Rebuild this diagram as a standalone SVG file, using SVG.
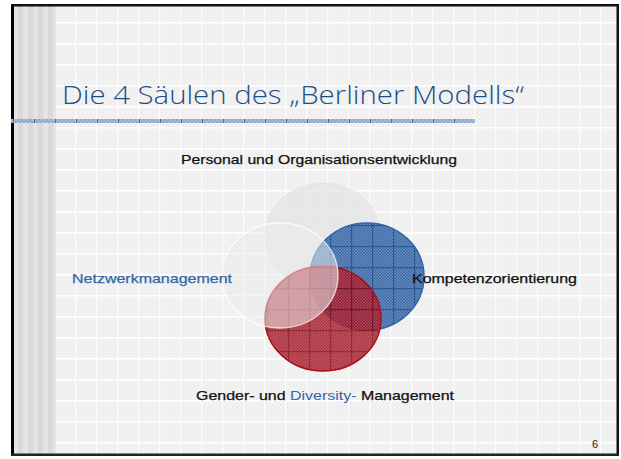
<svg xmlns="http://www.w3.org/2000/svg" width="621" height="459" viewBox="0 0 621 459">
<defs>
<style>
.lbl{font-family:"Liberation Sans",Arial,sans-serif;font-size:13px;fill:#111;stroke:#111;stroke-width:0.25}
.blue{fill:#3566a8;stroke:#3566a8}
.thin{stroke:none}
.title{font-family:"Open Sans","DejaVu Sans",sans-serif;font-weight:300;font-size:26px;fill:#1f4e86}
</style>
<pattern id="bgdots" width="4" height="4" patternUnits="userSpaceOnUse">
<rect width="4" height="4" fill="#f4f4f4"/>
<rect width="2" height="2" fill="#ededed"/>
<rect x="2" y="2" width="2" height="2" fill="#ededed"/>
</pattern>
<pattern id="bggrid" width="21" height="21" patternUnits="userSpaceOnUse" x="12" y="1">
<rect width="21" height="21" fill="url(#bgdots)"/>
<rect width="21" height="1.5" fill="#ffffff"/>
<rect width="1.2" height="21" fill="#fdfdfd"/>
</pattern>
<pattern id="stripes" width="10" height="10" patternUnits="userSpaceOnUse" x="13">
<rect width="5" height="10" fill="#e4e4e4"/>
<rect x="5" width="5" height="10" fill="#d9d9d9"/>
</pattern>
<pattern id="bdots" width="3" height="3" patternUnits="userSpaceOnUse">
<rect width="3" height="3" fill="#6a8fc0"/>
<rect width="1.5" height="1.5" fill="#3a67a3"/>
<rect x="1.5" y="1.5" width="1.5" height="1.5" fill="#3a67a3"/>
</pattern>
<pattern id="bgrid" width="21" height="21" patternUnits="userSpaceOnUse" x="15" y="15">
<rect width="21" height="21" fill="url(#bdots)"/>
<rect width="21" height="1.2" fill="#2a5a96"/>
<rect width="1.2" height="21" fill="#2a5a96"/>
</pattern>
<pattern id="rdots" width="3" height="3" patternUnits="userSpaceOnUse">
<rect width="3" height="3" fill="#bd3c48"/>
<rect width="1.5" height="1.5" fill="#98101f"/>
<rect x="1.5" y="1.5" width="1.5" height="1.5" fill="#98101f"/>
</pattern>
<pattern id="rgrid" width="21" height="21" patternUnits="userSpaceOnUse" x="15" y="15">
<rect width="21" height="21" fill="url(#rdots)"/>
<rect width="21" height="1.2" fill="#800a16"/>
<rect width="1.2" height="21" fill="#800a16"/>
</pattern>
<pattern id="bar" width="21" height="4" patternUnits="userSpaceOnUse" x="13" y="119">
<rect width="21" height="4" fill="#a9bcd6"/>
<rect width="2" height="2" fill="#8ea7c9"/>
<rect x="4" width="2" height="2" fill="#8ea7c9"/>
<rect x="8" width="2" height="2" fill="#8ea7c9"/>
<rect x="12" width="2" height="2" fill="#8ea7c9"/>
<rect x="16" width="2" height="2" fill="#8ea7c9"/>
<rect x="2" y="2" width="2" height="2" fill="#8ea7c9"/>
<rect x="6" y="2" width="2" height="2" fill="#8ea7c9"/>
<rect x="10" y="2" width="2" height="2" fill="#8ea7c9"/>
<rect x="14" y="2" width="2" height="2" fill="#8ea7c9"/>
<rect x="18" y="2" width="2" height="2" fill="#8ea7c9"/>
<rect width="1" height="4" fill="#4a6f9e"/>
</pattern>
</defs>

<g id="background">
<rect width="621" height="459" fill="#ffffff"/>
<rect x="11" y="4" width="607" height="452" fill="url(#bggrid)"/>
<rect x="13" y="6" width="43" height="448" fill="url(#stripes)"/>
<rect x="11" y="4" width="3" height="452" fill="#000"/>
<rect x="11" y="4" width="608" height="2.5" fill="#111"/>
<rect x="616.5" y="4" width="2.5" height="452" fill="#111"/>
<rect x="11" y="453.5" width="608" height="2.5" fill="#222"/>
</g>

<g id="title">
<text class="title" x="62" y="104" textLength="462" lengthAdjust="spacingAndGlyphs">Die 4 Säulen des „Berliner Modells“</text>
<rect x="11" y="119" width="464" height="4" fill="url(#bar)"/>
</g>

<g id="circle-top">
<ellipse cx="323" cy="236" rx="58" ry="53" fill="#e2e2e2" fill-opacity="0.7" stroke="#e6e6e6" stroke-width="1"/>
</g>
<g id="circle-blue">
<ellipse cx="367" cy="276.5" rx="57" ry="53.5" fill="url(#bgrid)" stroke="#2e66a8" stroke-width="1.5"/>
</g>
<g id="circle-red">
<ellipse cx="323" cy="318.5" rx="58" ry="52.5" fill="url(#rgrid)" fill-opacity="0.85" stroke="#a8101c" stroke-width="1.5"/>
</g>
<g id="circle-left">
<ellipse cx="280" cy="275.5" rx="58" ry="52.5" fill="#ebebeb" fill-opacity="0.55" stroke="#ffffff" stroke-opacity="0.75" stroke-width="1.3"/>
</g>

<g id="connectors"></g>

<g id="label-personal">
<text class="lbl" x="181" y="164" textLength="276" lengthAdjust="spacingAndGlyphs">Personal und Organisationsentwicklung</text>
</g>
<g id="label-netzwerk">
<text class="lbl blue" x="72" y="283" textLength="160" lengthAdjust="spacingAndGlyphs">Netzwerkmanagement</text>
</g>
<g id="label-kompetenz">
<text class="lbl" x="412" y="283" textLength="165" lengthAdjust="spacingAndGlyphs">Kompetenzorientierung</text>
</g>
<g id="label-gender">
<text class="lbl" x="196" y="400" textLength="258" lengthAdjust="spacingAndGlyphs">Gender- und <tspan class="blue thin">Diversity-</tspan> Management</text>
</g>
<g id="page-number">
<text x="592" y="448" style="font-family:'Liberation Sans',Arial,sans-serif;font-size:11px;fill:#222">6</text>
</g>
</svg>
